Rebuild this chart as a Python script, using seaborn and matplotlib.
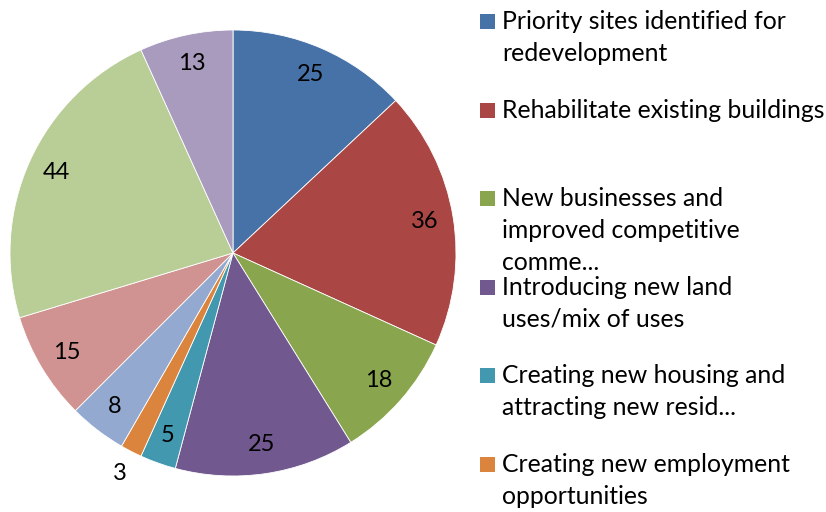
import matplotlib
matplotlib.use("Agg")
import matplotlib.pyplot as plt
import seaborn as sns
import numpy as np
from matplotlib.patches import Rectangle

# ---- data ----
values = [25, 36, 18, 25, 5, 3, 8, 15, 44, 13]
legend_labels = [
    "Priority sites identified for\nredevelopment",
    "Rehabilitate existing buildings",
    "New businesses and\nimproved competitive\ncomme...",
    "Introducing new land\nuses/mix of uses",
    "Creating new housing and\nattracting new resid...",
    "Creating new employment\nopportunities",
]
colors = ["#4672A7", "#AA4644", "#89A54E", "#71588F", "#4198AF",
          "#DB843D", "#93A9CF", "#D19392", "#B9CD96", "#A99BBD"]

sns.set_theme(style="white")
plt.rcParams["font.family"] = ["Lato", "DejaVu Sans"]

W, H = 826, 512
fig = plt.figure(figsize=(W / 100, H / 100), dpi=100)
cx, cy, R = 233, 253, 223
ax = fig.add_axes([(cx - R) / W, (H - cy - R) / H, 2 * R / W, 2 * R / H])

total = sum(values)
wedges, _, autotexts = ax.pie(
    values, colors=colors, startangle=90, counterclock=False,
    autopct=lambda p: f"{round(p * total / 100)}", pctdistance=0.87,
    wedgeprops=dict(edgecolor="white", linewidth=0.6),
    textprops=dict(fontsize=17, color="black"),
)
ax.set_xlim(-1, 1)
ax.set_ylim(-1, 1)
ax.set_aspect("equal")

# small slice label placed outside
for w, t, v in zip(wedges, autotexts, values):
    if v / total < 0.02:
        ang = np.deg2rad((w.theta1 + w.theta2) / 2)
        t.set_position((1.11 * np.cos(ang), 1.11 * np.sin(ang)))

# ---- legend (Excel style, first 6 entries) ----
x_mark, x_text = 480, 502
y0, step, line_h, msize = 21.5, 88.6, 32, 15
for i, lab in enumerate(legend_labels):
    ym = y0 + i * step
    fig.patches.append(Rectangle(((x_mark) / W, (H - ym - msize / 2) / H),
                                 msize / W, msize / H, transform=fig.transFigure,
                                 facecolor=colors[i], edgecolor="none"))
    for j, line in enumerate(lab.split("\n")):
        fig.text(x_text / W, (H - (ym + j * line_h)) / H, line,
                 fontsize=17.8, color="black", ha="left", va="center")

fig.savefig("out.png", dpi=100)
